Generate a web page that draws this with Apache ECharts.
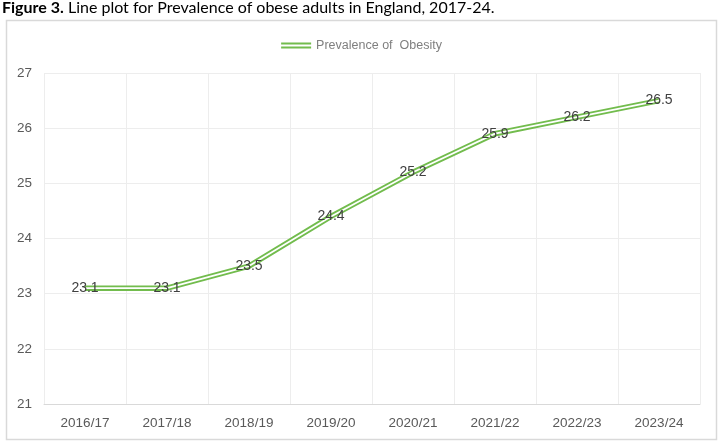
<!DOCTYPE html>
<html><head><meta charset="utf-8">
<script src="https://cdn.jsdelivr.net/npm/echarts@6/dist/echarts.min.js"></script>
<style>html,body{margin:0;padding:0;background:#fff}#c{width:723px;height:443px}</style>
</head><body><div id="c"></div>
<script>
const categories = ["2016/17","2017/18","2018/19","2019/20","2020/21","2021/22","2022/23","2023/24"];
const prevalence = [23.1, 23.1, 23.5, 24.4, 25.2, 25.9, 26.2, 26.5];
const yTicks = [21, 22, 23, 24, 25, 26, 27];
const seriesName = "Prevalence of  Obesity";
const FF = 'Liberation Sans, Arial, sans-serif';

const chart = echarts.init(document.getElementById('c'), null, {renderer:'canvas'});
chart.setOption({
  animation:false,
  textStyle:{fontFamily:FF},
  graphic:[
    {type:'rect', shape:{x:6.5,y:20.5,width:710,height:419}, style:{fill:'none',stroke:'#D9D9D9',lineWidth:1.5}, z:-1},
    {type:'text', left:2, top:0, style:{text:'{b|Figure 3.} Line plot for Prevalence of obese adults in England, 2017-24.', rich:{b:{fontWeight:'bold',fontSize:16,fill:'#000',fontFamily:'Lato, sans-serif'}}, fontSize:16, fill:'#000', fontFamily:'Lato, sans-serif'}}
  ],
  legend:{
    top:34, left:'center', itemWidth:30, itemHeight:6, itemGap:6,
    data:[{name:seriesName, icon:'path://M0,0H30V2H0Z M0,4H30V6H0Z'}],
    textStyle:{color:'#7F7F7F', fontSize:12.5, fontFamily:FF}
  },
  grid:{left:44, right:23, top:73, bottom:39},
  xAxis:{
    type:'category', data:categories, boundaryGap:true,
    axisLine:{show:true, lineStyle:{color:'#D9D9D9'}},
    axisTick:{show:false},
    axisLabel:{color:'#595959', fontSize:13.5, margin:12, fontFamily:FF},
    splitLine:{show:true, lineStyle:{color:'#EDEDED'}}
  },
  yAxis:{
    type:'value', min:yTicks[0], max:yTicks[yTicks.length-1], interval:1,
    axisLine:{show:false}, axisTick:{show:false},
    axisLabel:{color:'#595959', fontSize:13.5, margin:12, fontFamily:FF},
    splitLine:{lineStyle:{color:'#EDEDED'}}
  },
  series:[
    {name:seriesName, type:'line', data:prevalence, symbol:'none', color:'#72BC4D',
     lineStyle:{width:5.5, color:'#72BC4D'}, z:2},
    {name:'inner', type:'line', data:prevalence, symbol:'circle', symbolSize:0.01,
     itemStyle:{color:'#FFFFFF', borderWidth:0},
     lineStyle:{width:1.8, color:'#FFFFFF'}, z:3,
     label:{show:true, position:'inside', color:'#404040', fontSize:14, fontFamily:FF, formatter:p=>p.value.toFixed(1)}}
  ]
});
</script></body></html>
